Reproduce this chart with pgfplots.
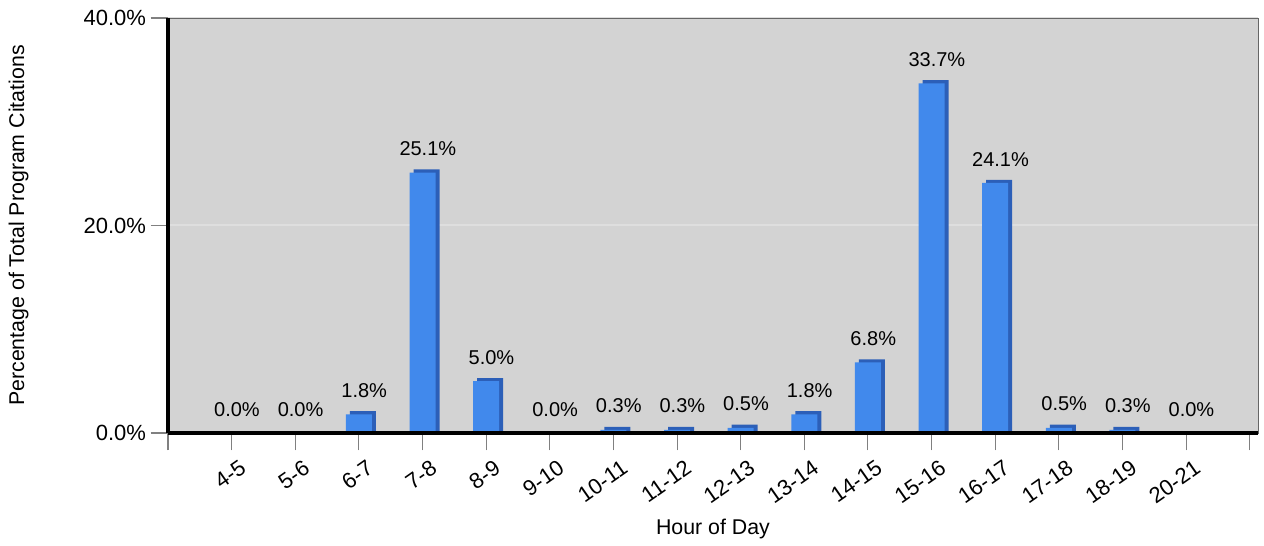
\documentclass[border=0pt]{standalone}
\usepackage{pgfplots}
\usepackage{pgfplotstable}
\pgfplotsset{compat=1.18}
\usepackage{fontspec}
\setmainfont{Liberation Sans}
\definecolor{plotbg}{RGB}{211,211,211}
\definecolor{barfront}{RGB}{65,137,236}
\definecolor{barside}{RGB}{44,95,184}
\definecolor{gridc}{RGB}{222,222,222}

% hour slot, share of citations (%), depth face height
\pgfplotstableread{
x  pct   back
0  0.0   0
1  0.0   0
2  1.8   2.1
3  25.1  25.4
4  5.0   5.3
5  0.0   0
6  0.3   0.6
7  0.3   0.6
8  0.5   0.8
9  1.8   2.1
10 6.8   7.1
11 33.7  34.0
12 24.1  24.4
13 0.5   0.8
14 0.3   0.6
15 0.0   0
}\citations

\begin{document}
\begin{tikzpicture}
\begin{axis}[
    scale only axis,
    width=817.5pt, height=311.25pt,
    xmin=-1, xmax=16.13,
    ymin=0, ymax=40,
    axis background/.style={fill=plotbg},
    axis line style={draw=gray!80!black},
    xtick={-1,...,16},
    xticklabels={,4-5,5-6,6-7,7-8,8-9,9-10,10-11,11-12,12-13,13-14,14-15,15-16,16-17,17-18,18-19,20-21,},
    xticklabel style={rotate=35, anchor=north east, xshift=4pt, yshift=-5pt},
    ytick={0,20,40},
    yticklabel={\pgfmathprintnumber[fixed,fixed zerofill,precision=1]{\tick}\%},
    /pgf/number format/assume math mode=true,
    tick align=outside,
    major tick length=13pt,
    tick style={gray, line width=0.8pt},
    xtick pos=bottom, ytick pos=left,
    ymajorgrids=true,
    major grid style={gridc, line width=1.5pt},
    font=\fontsize{16}{19}\selectfont,
    ticklabel style={font=\fontsize{16.5}{19}\selectfont},
    xlabel={Hour of Day},
    ylabel={Percentage of Total Program Citations},
    every axis x label/.style={at={(rel axis cs:0.5,0)}, anchor=center, yshift=-72pt},
    every axis y label/.style={at={(rel axis cs:0,0.5)}, anchor=center, rotate=90, yshift=112pt},
    ybar, bar width=19.5pt,
    clip=false,
]
\addplot[fill=barside, draw=none, bar shift=3pt] table[x=x, y=back] {\citations};
\addplot[fill=barfront, draw=none, bar shift=0pt,
    nodes near coords={\pgfmathprintnumber[fixed,fixed zerofill,precision=1]{\pgfplotspointmeta}\%},
    every node near coord/.append style={font=\fontsize{15}{18}\selectfont, black, yshift=9pt, xshift=4pt},
] table[x=x, y=pct] {\citations};
\draw[black, line width=3.5pt] (rel axis cs:0,0) -- (rel axis cs:1,0);
\draw[black, line width=3.5pt] (rel axis cs:0,0) -- (rel axis cs:0,1);
\end{axis}
\pgfresetboundingbox
\path (current axis.south west) ++(-126pt,-84.75pt) coordinate (bbA);
\path (current axis.north east) ++(4.5pt,13.5pt) coordinate (bbB);
\path[use as bounding box] (bbA) rectangle (bbB);
\end{tikzpicture}
\end{document}
